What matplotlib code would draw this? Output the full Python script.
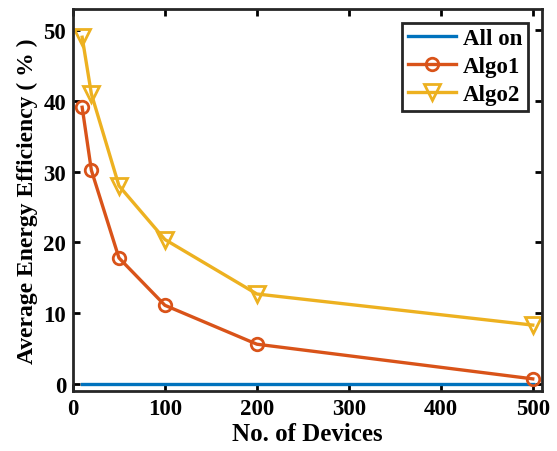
import numpy as np
import matplotlib.pyplot as plt

# data
devices = [10, 20, 50, 100, 200, 500]
all_on = [0, 0, 0, 0, 0, 0]
algo1 = [39.1, 30.2, 17.8, 11.1, 5.6, 0.7]
algo2 = [49.0, 41.0, 28.0, 20.4, 12.7, 8.3]

plt.rcParams['font.family'] = ['Liberation Serif', 'DejaVu Serif']
plt.rcParams['font.weight'] = 'bold'

fig = plt.figure(figsize=(5.57, 4.52), dpi=100)
ax = fig.add_axes([0.131, 0.133, 0.842, 0.845])

ax.plot(devices, all_on, '-', color='#0072BD', lw=2.4, label='All on')
ax.plot(devices, algo1, '-o', color='#D95319', lw=2.4, ms=9, mfc='none', mew=2, label='Algo1')
ax.plot(devices, algo2, '-v', color='#EDB120', lw=2.4, ms=11, mfc='none', mew=2, label='Algo2')

ax.set_xlim(0, 510)
ax.set_ylim(-1, 53)
ax.set_xticks([0, 100, 200, 300, 400, 500])
ax.set_yticks([0, 10, 20, 30, 40, 50])
ax.tick_params(direction='in', top=True, right=True, length=5, width=2, labelsize=16.5, pad=5)
for s in ax.spines.values():
    s.set_linewidth(2)
    s.set_color('#262626')

ax.set_xlabel('No. of Devices', fontsize=18, fontweight='bold', labelpad=2)
ax.set_ylabel('Average Energy Efficiency ( % )', fontsize=17, fontweight='bold', labelpad=4)

leg = ax.legend(loc='upper right', fontsize=16.5, fancybox=False, framealpha=1,
                edgecolor='#262626', handlelength=2.1, borderpad=0.25, labelspacing=0.3,
                handletextpad=0.3, borderaxespad=0.6)
leg.get_frame().set_linewidth(2)

fig.savefig('out.png', dpi=100)
